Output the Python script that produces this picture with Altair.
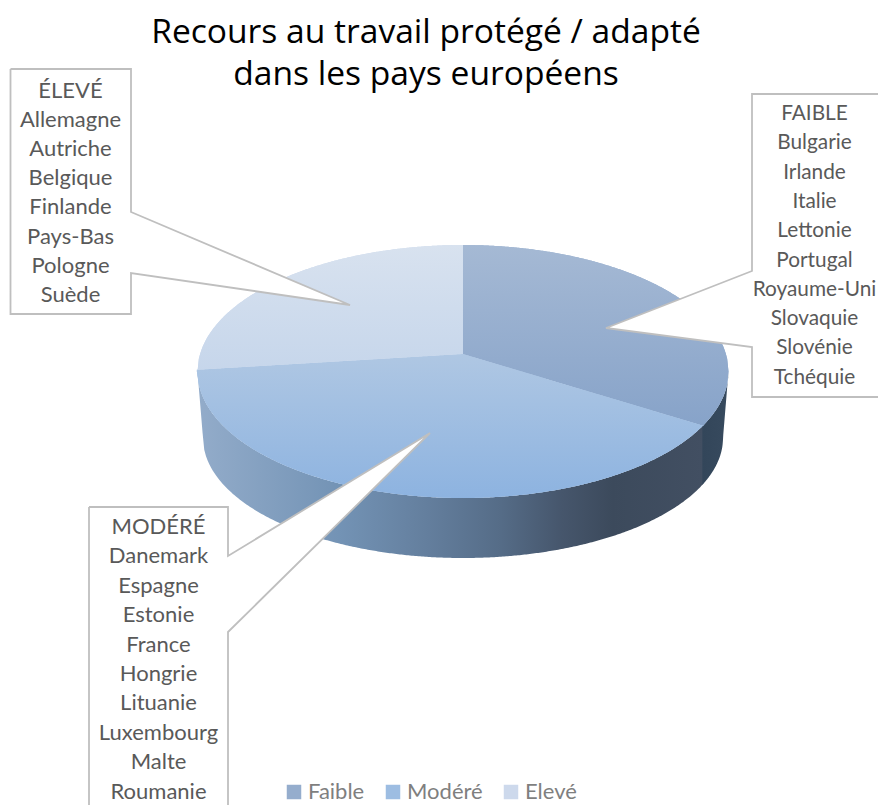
import math
import altair as alt
import pandas as pd

# ---- data
categories = ["Faible", "Modéré", "Elevé"]
shares = [34, 39, 27]
solid_colors = ["#95adcd", "#9dbde2", "#cdd9ec"]
title_lines = ["Recours au travail protégé / adapté", "dans les pays européens"]
faible_names = ["FAIBLE", "Bulgarie", "Irlande", "Italie", "Lettonie", "Portugal",
                "Royaume-Uni", "Slovaquie", "Slovénie", "Tchéquie"]
modere_names = ["MODÉRÉ", "Danemark", "Espagne", "Estonie", "France", "Hongrie",
                "Lituanie", "Luxembourg", "Malte", "Roumanie"]
eleve_names = ["ÉLEVÉ", "Allemagne", "Autriche", "Belgique", "Finlande",
               "Pays-Bas", "Pologne", "Suède"]

# ---- geometry of the tilted disc (image pixels)
CX, APEX_Y = 463.0, 354.0
TOP_CY, TOP_RX, TOP_RY = 371.5, 265.5, 126.5
BOT_CY, BOT_RX, BOT_RY = 438.0, 260.0, 120.0
K, A, B = 0.138, 263.6, 124.0


def project(theta):
    u, v = math.sin(theta), math.cos(theta)
    d = 1 + K * v
    return CX + A * u / d, APEX_Y - B * v / d


def half(x, rx, ry):
    r = 1 - ((x - CX) / rx) ** 2
    return ry * math.sqrt(max(r, 0.0))


def top_up(x):
    return TOP_CY - half(x, TOP_RX, TOP_RY)


def top_lo(x):
    return TOP_CY + half(x, TOP_RX, TOP_RY)


def wall_lo(x):
    dx = abs(x - CX)
    if dx >= BOT_RX:
        return TOP_CY + (BOT_CY - TOP_CY) * (TOP_RX - dx) / (TOP_RX - BOT_RX)
    return BOT_CY + half(x, BOT_RX, BOT_RY)


def lerp(x, x0, y0, x1, y1):
    return y0 + (y1 - y0) * (x - x0) / (x1 - x0)


def span(a, b, n=160):
    return [a + (b - a) * i / n for i in range(n + 1)]


total = sum(shares)
t1 = 2 * math.pi * shares[0] / total
t2 = 2 * math.pi * (shares[0] + shares[1]) / total
bx, by = project(t1)
cx_, cy_ = project(t2)
XL, XR = CX - TOP_RX, CX + TOP_RX

rows = []
for x in span(CX, XR, 200):
    lo = lerp(x, CX, APEX_Y, bx, by) if x <= bx else top_lo(x)
    rows.append(dict(cat="Faible", x=x, y=top_up(x), y2=lo))
for x in span(cx_, bx, 300):
    up = lerp(x, cx_, cy_, CX, APEX_Y) if x <= CX else lerp(x, CX, APEX_Y, bx, by)
    rows.append(dict(cat="Modéré", x=x, y=up, y2=top_lo(x)))
for x in span(XL, CX, 200):
    lo = lerp(x, cx_, cy_, CX, APEX_Y) if x >= cx_ else top_lo(x)
    rows.append(dict(cat="Elevé", x=x, y=top_up(x), y2=lo))
wedges = pd.DataFrame(rows)

walls = pd.DataFrame(
    [dict(part="m", x=x, y=top_lo(x), y2=wall_lo(x)) for x in span(XL, bx, 300)]
    + [dict(part="f", x=x, y=top_lo(x), y2=wall_lo(x)) for x in span(bx - 1, XR, 80)]
)

x_s = alt.Scale(domain=[8, 878], nice=False, zero=False)
y_s = alt.Scale(domain=[805, 93], nice=False, zero=False)
X = alt.X("x:Q", scale=x_s, axis=None)
Y = alt.Y("y:Q", scale=y_s, axis=None)


def grad(stops, horizontal=False):
    return alt.Gradient(
        gradient="linear",
        stops=[alt.GradientStop(offset=o, color=c) for o, c in stops],
        x1=0, x2=1 if horizontal else 0, y1=0, y2=0 if horizontal else 1,
    )


def area(df, fill):
    return alt.Chart(df).mark_area(fill=fill, interpolate="linear").encode(
        x=X, y=Y, y2="y2:Q"
    )


legend_base = alt.Chart(wedges).mark_area(interpolate="linear").encode(
    x=X, y=Y, y2="y2:Q", detail="cat:N",
    color=alt.Color(
        "cat:N",
        scale=alt.Scale(domain=categories, range=solid_colors),
        legend=alt.Legend(
            title=None, orient="none", direction="horizontal", columns=3,
            legendX=275, legendY=688, symbolType="square", symbolSize=210,
            labelFont="Lato", labelFontSize=22, labelColor="#7f7f7f",
            columnPadding=17, labelOffset=3, symbolStrokeWidth=0,
        ),
    ),
)

layers = [
    area(walls[walls.part == "m"], grad([
        (0, "#93acca"), (0.28, "#7393b5"), (0.45, "#647f9e"), (0.6, "#556c87"),
        (0.72, "#46566c"), (0.82, "#3c4a5c"), (1, "#424f62"),
    ], True)),
    area(walls[walls.part == "f"], grad([(0, "#33465a"), (1, "#374a5e")], True)),
    legend_base,
    area(wedges[wedges.cat == "Faible"], grad([(0, "#a5b9d4"), (1, "#87a3c9")])),
    area(wedges[wedges.cat == "Modéré"], grad([(0, "#afc7e3"), (1, "#8db3e0")])),
    area(wedges[wedges.cat == "Elevé"], grad([(0, "#d8e2ef"), (1, "#c6d6eb")])),
]

STROKE = "#bfbfbf"


def callout(names, x0, x1, y0, y1, base_a, tip, base_b, side, tx, ty0, step, size=22):
    out = []
    box = pd.DataFrame([dict(x=x0, x2=x1, y=y0, y2=y1)])
    out.append(alt.Chart(box).mark_rect(fill="white").encode(x=X, x2="x2:Q", y=Y, y2="y2:Q"))
    bx0 = x1 if side == "right" else x0
    tri = pd.DataFrame([
        dict(x=bx0, y=base_a, y2=base_b),
        dict(x=tip[0], y=tip[1], y2=tip[1]),
    ])
    out.append(alt.Chart(tri).mark_area(fill="white", interpolate="linear").encode(x=X, y=Y, y2="y2:Q"))
    if side == "right":
        pts = [(x0, y0), (x1, y0), (x1, base_a), tip, (x1, base_b), (x1, y1), (x0, y1), (x0, y0)]
    else:
        pts = [(x1, y0), (x0, y0), (x0, base_a), tip, (x0, base_b), (x0, y1), (x1, y1), (x1, y0)]
    line = pd.DataFrame([dict(x=p[0], y=p[1], o=i) for i, p in enumerate(pts)])
    out.append(alt.Chart(line).mark_line(color=STROKE, strokeWidth=1.8, interpolate="linear").encode(
        x=X, y=Y, order="o:Q"))
    lab = pd.DataFrame([dict(x=tx, y=ty0 + i * step, t=n) for i, n in enumerate(names)])
    out.append(alt.Chart(lab).mark_text(font="Lato", fontSize=size, color="#595959", align="center", baseline="middle").encode(
        x=X, y=Y, text="t:N"))
    return out


layers += callout(eleve_names, 10.5, 131, 69, 314, 212, (350, 305), 273, "right", 70.5, 90.5, 29.2)
layers += callout(faible_names, 752, 900, 94, 397, 271, (606, 328), 347, "left", 814.5, 114, 29.3, 20.8)
layers += callout(modere_names, 89, 228, 507, 830, 556, (430, 433), 632, "right", 158.5, 527, 29.4)

chart = alt.layer(*layers).resolve_scale(color="shared").properties(
    width=870,
    height=712,
    padding={"left": 0, "top": 85, "right": 0, "bottom": 0},
    autosize=alt.AutoSizeParams(type="none"),
    title=alt.TitleParams(
        text=title_lines, font="Open Sans", fontSize=33.6, fontWeight="normal", color="#000000",
        anchor="middle", frame="group", dx=-17, offset=-26, lineHeight=42,
    ),
).configure_view(stroke=None)

chart.save("out.html", embed_options={"renderer": "svg", "actions": False})
